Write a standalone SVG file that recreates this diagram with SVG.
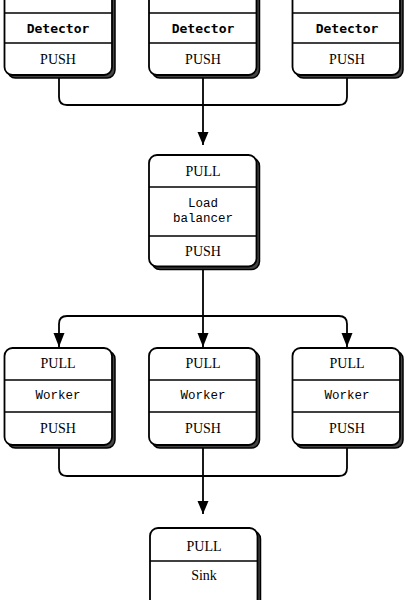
<svg xmlns="http://www.w3.org/2000/svg" width="405" height="611" viewBox="0 0 405 611">
<defs>
<style>
.shadow{fill:#444;stroke:#000;stroke-width:1.5}
.box{fill:#fff;stroke:#000;stroke-width:1.8}
.div{stroke:#000;stroke-width:1.5}
.conn{fill:none;stroke:#000;stroke-width:1.8}
.t{font-family:"Liberation Serif","Times New Roman",serif;font-size:14px;fill:#000;text-anchor:middle;dominant-baseline:central}
.tb{font-family:"DejaVu Sans Mono","Liberation Mono",monospace;font-weight:bold;font-size:13px;fill:#000;text-anchor:middle;dominant-baseline:central}
.ts{font-family:"Liberation Mono","Courier New",monospace;font-size:12.5px;fill:#000;text-anchor:middle;dominant-baseline:central}
</style>
<clipPath id="clipb"><rect x="0" y="0" width="405" height="600"/></clipPath>
</defs>

<g id="connectors">
<path class="conn" d="M59,75 V97 Q59,105 67,105 H339 Q347,105 347,97 V75"/>
<path class="conn" d="M203,75 V145"/>
<path d="M197.5,132 H208.5 L203,145 Z" fill="#000"/>
<path class="conn" d="M203,267 V347"/>
<path class="conn" d="M59,347 V324 Q59,316 67,316 H339 Q347,316 347,324 V347"/>
<path d="M53.5,333 H64.5 L59,347 Z" fill="#000"/>
<path d="M197.5,333 H208.5 L203,347 Z" fill="#000"/>
<path d="M341.5,333 H352.5 L347,347 Z" fill="#000"/>
<path class="conn" d="M59,445 V468 Q59,476 67,476 H339 Q347,476 347,468 V445"/>
<path class="conn" d="M203,445 V514"/>
<path d="M197.5,501 H208.5 L203,514 Z" fill="#000"/>
</g>

<g id="detector1">
<rect class="shadow" x="7.5" y="-22" width="107.5" height="100" rx="8"/>
<rect class="box" x="4.5" y="-25" width="107.5" height="100" rx="8"/>
<line class="div" x1="4.5" y1="13" x2="112" y2="13"/>
<line class="div" x1="4.5" y1="43" x2="112" y2="43"/>
<text class="tb" x="58" y="28">Detector</text>
<text class="t" x="58" y="59">PUSH</text>
</g>
<g id="detector2">
<rect class="shadow" x="152" y="-22" width="107.5" height="100" rx="8"/>
<rect class="box" x="149" y="-25" width="107.5" height="100" rx="8"/>
<line class="div" x1="149" y1="13" x2="256.5" y2="13"/>
<line class="div" x1="149" y1="43" x2="256.5" y2="43"/>
<text class="tb" x="203" y="28">Detector</text>
<text class="t" x="203" y="59">PUSH</text>
</g>
<g id="detector3">
<rect class="shadow" x="295.5" y="-22" width="107.5" height="100" rx="8"/>
<rect class="box" x="292.5" y="-25" width="107.5" height="100" rx="8"/>
<line class="div" x1="292.5" y1="13" x2="400" y2="13"/>
<line class="div" x1="292.5" y1="43" x2="400" y2="43"/>
<text class="tb" x="347" y="28">Detector</text>
<text class="t" x="347" y="59">PUSH</text>
</g>

<g id="loadbalancer">
<rect class="shadow" x="152" y="158" width="107.5" height="111.5" rx="8"/>
<rect class="box" x="149" y="155" width="107.5" height="111.5" rx="8"/>
<line class="div" x1="149" y1="187" x2="256.5" y2="187"/>
<line class="div" x1="149" y1="236" x2="256.5" y2="236"/>
<text class="t" x="203" y="171">PULL</text>
<text class="ts" x="203" y="204">Load</text>
<text class="ts" x="203" y="219">balancer</text>
<text class="t" x="203" y="251">PUSH</text>
</g>

<g id="worker1">
<rect class="shadow" x="7.5" y="351" width="107.5" height="97" rx="8"/>
<rect class="box" x="4.5" y="348" width="107.5" height="97" rx="8"/>
<line class="div" x1="4.5" y1="380" x2="112" y2="380"/>
<line class="div" x1="4.5" y1="412" x2="112" y2="412"/>
<text class="t" x="58" y="363">PULL</text>
<text class="ts" x="58" y="396">Worker</text>
<text class="t" x="58" y="428">PUSH</text>
</g>
<g id="worker2">
<rect class="shadow" x="152" y="351" width="107.5" height="97" rx="8"/>
<rect class="box" x="149" y="348" width="107.5" height="97" rx="8"/>
<line class="div" x1="149" y1="380" x2="256.5" y2="380"/>
<line class="div" x1="149" y1="412" x2="256.5" y2="412"/>
<text class="t" x="203" y="363">PULL</text>
<text class="ts" x="203" y="396">Worker</text>
<text class="t" x="203" y="428">PUSH</text>
</g>
<g id="worker3">
<rect class="shadow" x="295.5" y="351" width="107.5" height="97" rx="8"/>
<rect class="box" x="292.5" y="348" width="107.5" height="97" rx="8"/>
<line class="div" x1="292.5" y1="380" x2="400" y2="380"/>
<line class="div" x1="292.5" y1="412" x2="400" y2="412"/>
<text class="t" x="347" y="363">PULL</text>
<text class="ts" x="347" y="396">Worker</text>
<text class="t" x="347" y="428">PUSH</text>
</g>

<g id="sink" clip-path="url(#clipb)">
<rect class="shadow" x="153" y="531" width="107.5" height="100" rx="8"/>
<rect class="box" x="150" y="528" width="107.5" height="100" rx="8"/>
<line class="div" x1="150" y1="561" x2="257.5" y2="561"/>
<text class="t" x="204" y="546">PULL</text>
<text class="t" x="204" y="575">Sink</text>
</g>
</svg>
